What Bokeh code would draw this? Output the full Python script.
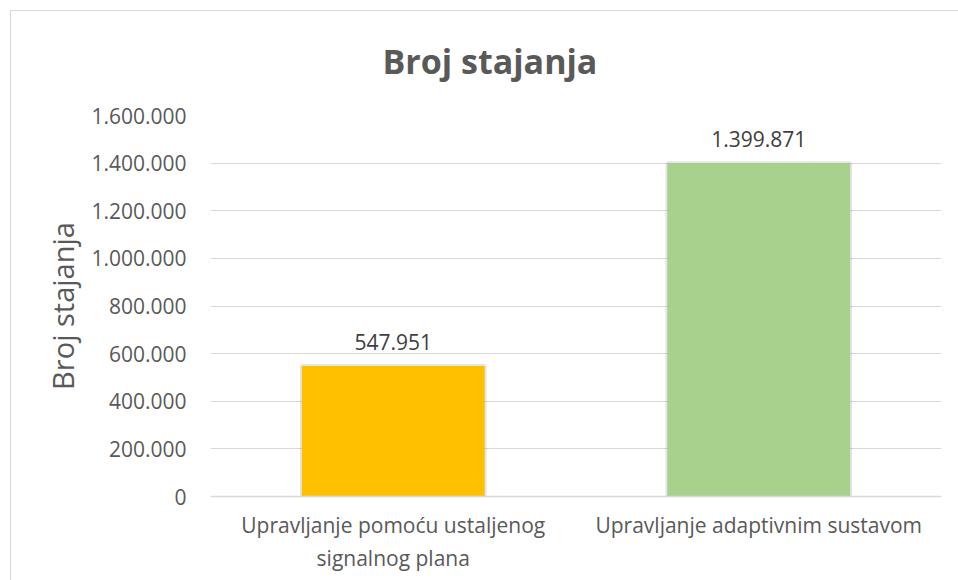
from bokeh.plotting import figure
from bokeh.models import FactorRange, Range1d, FixedTicker, ColumnDataSource
from bokeh.core.properties import value
from bokeh.embed import file_html
from bokeh.resources import INLINE

# ---- data ----
categories = ["Upravljanje pomoću ustaljenog\nsignalnog plana", "Upravljanje adaptivnim sustavom"]
values = [547951, 1399871]
bar_colors = ["#FFC000", "#A9D18E"]
tick_values = [0, 200000, 400000, 600000, 800000, 1000000, 1200000, 1400000, 1600000]
tick_labels = ["0", "200.000", "400.000", "600.000", "800.000", "1.000.000", "1.200.000", "1.400.000", "1.600.000"]
title_text = "Broj stajanja"
y_label = "Broj stajanja"

data_labels = [f"{v:,}".replace(",", ".") for v in values]

FONT = "Open Sans"
GREY = "#595959"
EDGE = "#d9d9d9"

src = ColumnDataSource(dict(cat=categories, val=values, color=bar_colors, lab=data_labels))

p = figure(
    x_range=FactorRange(*categories, range_padding=0),
    y_range=Range1d(0, 1600000),
    width=958, height=580,
    output_backend="svg", toolbar_location=None, tools="",
    min_border_left=210, min_border_right=17, min_border_top=115, min_border_bottom=84,
)
# chart-area frame: thin grey lines on the left and top, 10px in from the page edge
p.border_fill_alpha = 0
p.background_fill_color = "white"
p.styles = {"background": (f"linear-gradient({EDGE},{EDGE}) 10px 10px / 100% 1px no-repeat, "
                           f"linear-gradient({EDGE},{EDGE}) 10px 10px / 1px 100% no-repeat, white")}

# soft shadow around bars
p.vbar(x="cat", top="val", width=0.5, fill_color="#000000", fill_alpha=0.08,
       line_color="#000000", line_alpha=0.10, line_width=4, source=src)
p.vbar(x="cat", top="val", width=0.5, fill_color="color", line_color=None, source=src)
p.text(x="cat", y="val", text="lab", source=src, text_align="center", text_baseline="alphabetic",
       y_offset=-24, text_font=value(FONT), text_font_size="21px", text_color="#404040")

p.title.text = title_text
p.title.align = "left"
p.title.offset = 172
p.title.standoff = 64
p.title.text_font = FONT
p.title.text_font_size = "34px"
p.title.text_font_style = "bold"
p.title.text_color = GREY

p.outline_line_color = None
p.xgrid.grid_line_color = None
p.ygrid.grid_line_color = EDGE
p.ygrid.grid_line_width = 1

p.yaxis.ticker = FixedTicker(ticks=tick_values)
p.yaxis.major_label_overrides = {t: l for t, l in zip(tick_values, tick_labels)}
p.yaxis.axis_line_color = None
p.yaxis.major_tick_line_color = None
p.yaxis.minor_tick_line_color = None
p.yaxis.major_label_standoff = 18
p.yaxis.major_label_text_font = FONT
p.yaxis.major_label_text_font_size = "21px"
p.yaxis.major_label_text_color = GREY
p.yaxis.axis_label = y_label
p.yaxis.axis_label_text_font = FONT
p.yaxis.axis_label_text_font_size = "29px"
p.yaxis.axis_label_text_font_style = "normal"
p.yaxis.axis_label_text_color = GREY
p.yaxis.axis_label_standoff = 6

p.xaxis.axis_line_color = EDGE
p.xaxis.axis_line_width = 1.3
p.xaxis.major_tick_line_color = None
p.xaxis.minor_tick_line_color = None
p.xaxis.major_label_standoff = 8
p.xaxis.major_label_text_font = FONT
p.xaxis.major_label_text_font_size = "21px"
p.xaxis.major_label_text_color = GREY
p.xaxis.major_label_orientation = "horizontal"

open("out.html", "w").write(file_html(p, INLINE))
